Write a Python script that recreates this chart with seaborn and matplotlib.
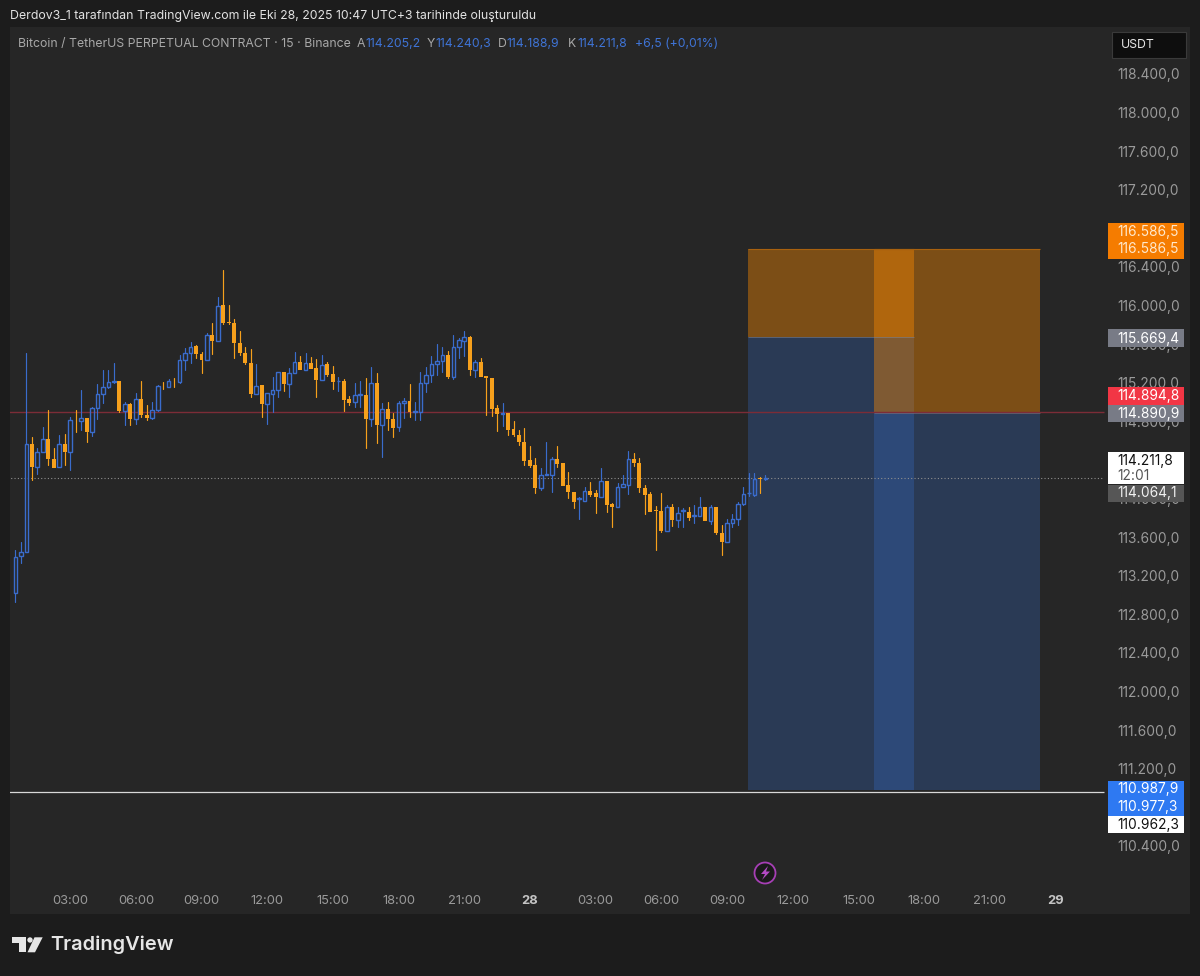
import numpy as np
import pandas as pd
import seaborn as sns
import matplotlib.pyplot as plt
from matplotlib.patches import Rectangle, Polygon, Circle

# 15 dakikalik mumlar, 27 Eki 00:30'dan baslar
highs = [113467,113554,115512,114642,114521,114745,114918,114521,114659,114669,114849,114918,115125,114839,114953,115184,115333,115333,115402,115222,
         115004,114994,115091,115219,114970,115004,115177,115212,115236,115246,115488,115557,115626,115592,115523,115712,115823,116092,116369,116006,
         115858,115737,115567,115550,115391,115177,115098,115264,115316,115309,115350,115516,115481,115506,115471,115447,115488,115412,115378,115257,
         115236,115063,115195,115219,115247,115367,115305,114994,115005,114884,115015,115039,115184,115005,115316,115367,115478,115599,115575,115533,
         115696,115661,115737,115685,115437,115461,115271,115247,114970,114987,114891,114807,114711,114728,114545,114417,114313,114590,114434,114545,
         114365,114272,114072,114013,114123,114168,114089,114320,114186,113958,114165,114244,114493,114469,114417,114141,114072,113926,114054,113933,
         113940,113916,113899,113909,113933,114020,113916,113933,113916,113726,113785,113840,113968,114123,114261,114261,114227,114240.3]
lows = [112932,113329,113450,114193,114255,114479,114348,114314,114327,114348,114296,114694,114711,114590,114652,114821,114994,115143,115201,114901,
        114763,114763,114773,114849,114814,114821,114911,115132,115153,115153,115201,115333,115402,115453,115298,115433,115498,115637,115809,115809,
        115453,115488,115395,115049,115087,114849,114773,114901,115050,115119,115050,115298,115333,115333,115340,115050,115229,115274,115133,115119,
        114912,114970,114953,114946,114521,114753,114580,114428,114711,114635,114704,114832,114849,114815,114815,115108,115212,115281,115316,115247,
        115240,115454,115481,115281,115257,115257,114867,114860,114704,114753,114659,114652,114555,114348,114331,114061,114089,114244,114072,114331,
        114130,114002,113899,113785,113975,114027,113847,114013,113864,113709,113909,114116,114047,114337,114072,113837,113864,113467,113657,113667,
        113716,113709,113702,113778,113750,113819,113768,113736,113633,113415,113550,113702,113726,113933,114027,114027,114054,114188.9]
opens = [113018,113405,113450,114566,114331,114479,114621,114410,114327,114566,114486,114818,114804,114832,114694,114942,115087,115153,115208,115219,
         114904,114977,114821,115036,114870,114839,114918,115170,115160,115222,115205,115433,115505,115581,115502,115433,115695,115637,116003,115830,
         115816,115609,115505,115409,115087,115177,114981,115088,115126,115309,115191,115298,115416,115336,115405,115354,115233,115395,115291,115215,
         115219,115032,115005,115077,115077,114825,115202,114760,114929,114822,114739,114987,115012,114898,114901,115202,115281,115392,115430,115488,
         115257,115568,115637,115678,115333,115412,115271,115247,114936,114874,114884,114717,114659,114590,114400,114348,114106,114244,114244,114407,
         114365,114141,114072,113996,113978,114082,114058,114020,114182,113944,113913,114123,114141,114413,114369,114110,114047,113882,113871,113667,
         113909,113778,113875,113864,113819,113823,113909,113768,113909,113640,113553,113743,113785,113940,114054,114040,114213,114205.2]
closes = [113398,113443,114566,114331,114479,114621,114410,114321,114566,114486,114811,114811,114832,114694,114939,115087,115153,115205,115222,114904,
          114977,114821,115036,114870,114839,114915,115163,115163,115215,115215,115433,115505,115574,115498,115433,115695,115637,115999,115816,115820,
          115609,115505,115402,115084,115170,114981,115091,115126,115309,115188,115298,115416,115336,115402,115343,115229,115388,115281,115209,115222,
          115022,114994,115070,115084,114825,115202,114760,114929,114822,114735,114987,115015,114894,114905,115202,115281,115395,115430,115488,115257,
          115568,115640,115678,115333,115412,115264,115247,114929,114874,114884,114711,114655,114583,114389,114337,114106,114244,114251,114407,114358,
          114134,114068,113964,114002,114082,114040,114020,114186,113933,113909,114123,114148,114413,114365,114106,114037,113864,113871,113664,113909,
          113778,113850,113882,113802,113826,113909,113771,113909,113640,113550,113743,113785,113940,114051,114061,114199,114206,114211.8]

y_ticks_full = [118400,118000,117600,117200,116800,116400,116000,115600,115200,114800,114400,114000,113600,113200,112800,112400,112000,111600,111200,110800,110400]
x_ticks = [3,6,9,12,15,18,21,24,27,30,33,36,39,42,45,48]
x_labels = ['03:00','06:00','09:00','12:00','15:00','18:00','21:00','28','03:00','06:00','09:00','12:00','15:00','18:00','21:00','29']

# pozisyon araclari: sol, sag, giris, hedef, stop
tool_left = [33.96, 39.73]
tool_right = [41.55, 47.3]
tool_entry = [115669.4, 114890.9]
tool_top = [116586.5, 116586.5]
tool_bottom = [110977.3, 110977.3]

red_price = 114894.8
last_price = 114211.8
white_price = 110962.3

bg = '#262626'
outer = '#1c1c1c'
up = '#3a6ccc'
down = '#f6a01c'
font = 'Inter'

sns.set_style('dark')
plt.rcParams['font.family'] = [font, 'DejaVu Sans']

df = pd.DataFrame({'open': opens, 'high': highs, 'low': lows, 'close': closes})
df['t'] = 0.5 + 0.25 * df.index
df['yon'] = np.where(df['close'] >= df['open'], 'up', 'down')
df['top'] = df[['open', 'close']].max(axis=1)
df['bot'] = df[['open', 'close']].min(axis=1)

# fitiller iki parca, govdenin icinden gecmesin
ust = pd.concat([df[['t', 'yon']].assign(price=df['high'], seg=df.index * 2),
                 df[['t', 'yon']].assign(price=df['top'], seg=df.index * 2)])
alt = pd.concat([df[['t', 'yon']].assign(price=df['bot'], seg=df.index * 2 + 1),
                 df[['t', 'yon']].assign(price=df['low'], seg=df.index * 2 + 1)])
wicks = pd.concat([ust, alt])

fig = plt.figure(figsize=(12, 9.76), dpi=100, facecolor=outer)
ax = fig.add_axes([10 / 1200, 1 - 914 / 976, 1180 / 1200, 887 / 976], facecolor=bg)

for l, r, e, t, b in zip(tool_left, tool_right, tool_entry, tool_top, tool_bottom):
    ax.bar(l, t - e, width=r - l, bottom=e, align='edge', color='#ff8c00', alpha=0.4, linewidth=0, zorder=1)
    ax.bar(l, e - b, width=r - l, bottom=b, align='edge', color='#3676e2', alpha=0.25, linewidth=0, zorder=1)
    ax.hlines(t, l, r, color='#a8610f', lw=0.8, zorder=1.5)
    ax.hlines(e, l, r, color='#8a8a92', lw=0.6, alpha=0.6, zorder=1.5)

ax.hlines(red_price, 0, tool_right[1] + 2.9, color='#7c2c37', lw=1, zorder=1.6)
ax.hlines(last_price, 0, tool_right[1] + 2.9, color='#8f8f8f', lw=0.8, linestyles=(0, (1, 2)), zorder=1.6)
ax.hlines(white_price, 0, tool_right[1] + 2.9, color='#d8d8d8', lw=0.9, zorder=1.6)

sns.lineplot(data=wicks, x='t', y='price', hue='yon', units='seg', estimator=None,
             palette={'up': up, 'down': down}, lw=0.85, legend=False, ax=ax, zorder=2)

up_df = df[df['yon'] == 'up']
down_df = df[df['yon'] == 'down']
ax.bar(up_df['t'], up_df['top'] - up_df['bot'], bottom=up_df['bot'], width=0.165,
       facecolor='none', edgecolor=up, linewidth=1.0, zorder=3)
ax.bar(down_df['t'], down_df['top'] - down_df['bot'], bottom=down_df['bot'], width=0.18,
       color=down, linewidth=0, zorder=3)

ax.set_xlim(0.274 - 0.02, 54.165 - 0.02)
ax.set_ylim(109695, 118887)
ax.set_xlabel('')
ax.set_ylabel('')
ax.grid(False)
for s in ax.spines.values():
    s.set_visible(False)

ax.yaxis.tick_right()
ax.set_yticks(y_ticks_full)
ax.set_yticklabels([f'{v:,.1f}'.replace(',', 'X').replace('.', ',').replace('X', '.') for v in y_ticks_full])
ax.tick_params(axis='y', length=0, pad=-52.5, labelsize=9.9, labelcolor='#9a9a9a')
ax.set_xticks(x_ticks)
ax.set_xticklabels(x_labels)
ax.tick_params(axis='x', length=0, pad=-13.5, labelsize=9.3, labelcolor='#9a9a9a')
for lab in ax.get_xticklabels():
    if lab.get_text() in ('28', '29'):
        lab.set_fontweight('bold')
        lab.set_color('#c4c4c4')

# ust katman: etiketler ve logo, piksel koordinatinda
ov = fig.add_axes([0, 0, 1, 1], facecolor='none')
ov.set_xlim(0, 1200)
ov.set_ylim(976, 0)
ov.axis('off')

ov.text(10, 16, 'Derdov3_1 tarafından TradingView.com ile Eki 28, 2025 10:47 UTC+3 tarihinde oluşturuldu',
        color='#e2e2e2', fontsize=8.85, va='center')
ov.text(18, 44, 'Bitcoin / TetherUS PERPETUAL CONTRACT · 15 · Binance', color='#a8a8a8', fontsize=8.8, va='center')
for x, s in zip([357, 427, 498, 568], 'AYDK'):
    ov.text(x, 44, s, color='#a8a8a8', fontsize=8.8, va='center')
for x, s in zip([365, 435, 506, 577, 635], ['114.205,2', '114.240,3', '114.188,9', '114.211,8', '+6,5 (+0,01%)']):
    ov.text(x, 44, s, color='#3f74d6', fontsize=8.8, va='center')

ov.add_patch(Rectangle((1112, 32), 74, 26, facecolor='#0e0e0e', edgecolor='#3a3a3a', lw=0.8))
ov.text(1121, 45, 'USDT', color='#e6e6e6', fontsize=8.8, va='center')

boxes = [(223, 259, '#f57c00'), (329, 347, '#787b86'), (387, 405, '#f23645'), (405, 422, '#787b86'),
         (452, 484, '#ffffff'), (485, 502, '#565656'), (781, 816, '#2e79f2'), (816, 833, '#ffffff')]
for y0, y1, c in boxes:
    ov.add_patch(Rectangle((1108, y0), 76, y1 - y0, facecolor=c, linewidth=0))
labels = [(232, '116.586,5', '#ffe8cc'), (249.5, '116.586,5', '#ffe8cc'), (338.5, '115.669,4', '#ffffff'),
          (396, '114.894,8', '#ffffff'), (414, '114.890,9', '#ffffff'), (461, '114.211,8', '#111111'),
          (475.5, '12:01', '#555555'), (493.5, '114.064,1', '#f0f0f0'), (789.5, '110.987,9', '#ffffff'),
          (807, '110.977,3', '#ffffff'), (824.5, '110.962,3', '#111111')]
for y, s, c in labels:
    ov.text(1117, y, s, color=c, fontsize=9.9, va='center')

# simsek simgesi
ov.add_patch(Circle((765, 873), 10.5, facecolor='#1a1a1a', edgecolor='#a63fb5', lw=1.3))
ov.add_patch(Polygon([(768, 866), (761, 874), (765, 874), (762, 880), (770, 871.5), (766, 871.5)],
                     facecolor='#b44ac4', linewidth=0))

# TradingView logosu
ov.add_patch(Polygon([(12.3, 937.3), (25.7, 937.3), (25.7, 952), (19, 952), (19, 943.3), (12.3, 943.3)],
                     facecolor='#e6e6e6', linewidth=0))
ov.add_patch(Circle((30, 940), 2.7, facecolor='#e6e6e6', linewidth=0))
ov.add_patch(Polygon([(34.5, 937.3), (42.7, 937.3), (35, 952.3), (27.5, 952.3)], facecolor='#e6e6e6', linewidth=0))
ov.text(50, 945, 'TradingView', color='#e6e6e6', fontsize=14.4, fontweight='semibold', va='center')

fig.savefig('out.png', dpi=100, facecolor=outer)
